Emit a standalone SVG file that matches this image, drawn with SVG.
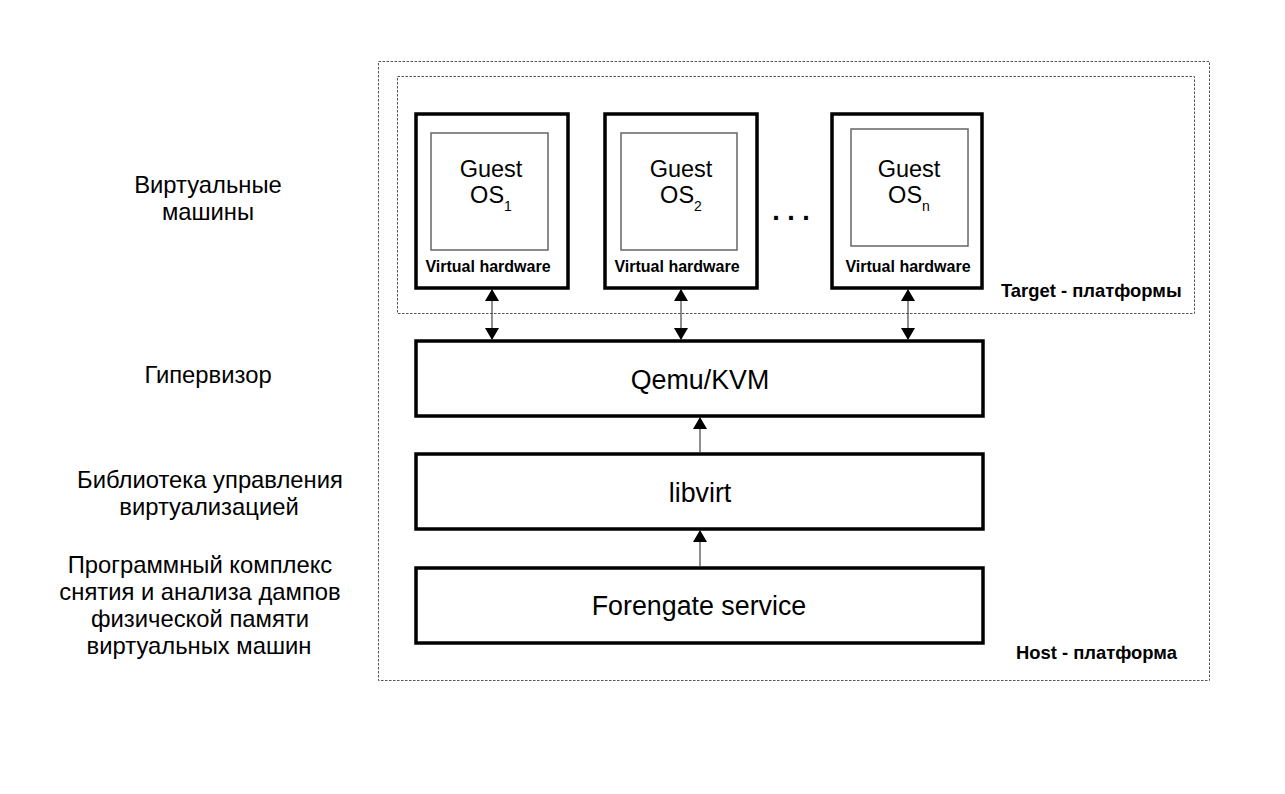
<svg xmlns="http://www.w3.org/2000/svg" width="1285" height="794" viewBox="0 0 1285 794">
<style>
text{font-family:"Liberation Sans",Arial,sans-serif;fill:#000}
.lbl{font-size:23.8px;text-anchor:middle}
.big{font-size:26.8px;text-anchor:middle}
.os{font-size:23.5px;text-anchor:middle}
.sub{font-size:14px}
.vh{font-size:16px;font-weight:bold;text-anchor:middle}
.plat{font-size:18.4px;font-weight:bold}
.frame{fill:none;stroke:#555;stroke-width:1;stroke-dasharray:2.5 1.5}
.vm{fill:#fff;stroke:#000;stroke-width:3.5}
.inner{fill:#fff;stroke:#666;stroke-width:1.5}
.layer{fill:#fff;stroke:#000;stroke-width:3.5}
.conn{stroke:#444;stroke-width:1.2;fill:none}
</style>
<defs>
<marker id="ah" viewBox="0 0 12 14" refX="11" refY="7" markerWidth="12" markerHeight="14" markerUnits="userSpaceOnUse" orient="auto-start-reverse">
<path d="M0,0 L12,7 L0,14 z" fill="#000"/>
</marker>
</defs>
<rect width="1285" height="794" fill="#fff"/>
<g id="host-frame">
<rect class="frame" x="378.5" y="61.5" width="831" height="619"/>
<text class="plat" x="1016" y="659">Host - платформа</text>
</g>
<g id="target-frame">
<rect class="frame" x="397.5" y="76.5" width="797" height="237"/>
<text class="plat" x="1001" y="297">Target - платформы</text>
</g>
<g id="labels">
<text class="lbl" x="208" y="193">Виртуальные</text>
<text class="lbl" x="208" y="220">машины</text>
<text class="lbl" x="208" y="383">Гипервизор</text>
<text class="lbl" x="210" y="488">Библиотека управления</text>
<text class="lbl" x="209" y="515">виртуализацией</text>
<text class="lbl" x="200" y="573">Программный комплекс</text>
<text class="lbl" x="200" y="600">снятия и анализа дампов</text>
<text class="lbl" x="200" y="627">физической памяти</text>
<text class="lbl" x="199" y="654">виртуальных машин</text>
</g>
<g id="vm1">
<rect class="vm" x="416" y="114" width="152" height="174"/>
<rect class="inner" x="431" y="133" width="117" height="117"/>
<text class="os" x="491" y="177">Guest</text>
<text class="os" x="491" y="203">OS<tspan class="sub" dy="8">1</tspan></text>
<text class="vh" x="488" y="272">Virtual hardware</text>
</g>
<g id="vm2">
<rect class="vm" x="605" y="114" width="152" height="174"/>
<rect class="inner" x="621" y="133" width="116" height="117"/>
<text class="os" x="681" y="177">Guest</text>
<text class="os" x="681" y="203">OS<tspan class="sub" dy="8">2</tspan></text>
<text class="vh" x="677" y="272">Virtual hardware</text>
</g>
<g id="dots">
<text x="791" y="220" style="font-size:27px;font-weight:bold;text-anchor:middle">. . .</text>
</g>
<g id="vmn">
<rect class="vm" x="832" y="114" width="150" height="174"/>
<rect class="inner" x="851" y="129" width="117" height="117"/>
<text class="os" x="909" y="177">Guest</text>
<text class="os" x="909" y="203">OS<tspan class="sub" dy="8">n</tspan></text>
<text class="vh" x="908" y="272">Virtual hardware</text>
</g>
<g id="qemu">
<rect class="layer" x="416" y="341" width="567" height="75"/>
<text class="big" x="700" y="389">Qemu/KVM</text>
</g>
<g id="libvirt">
<rect class="layer" x="416" y="454" width="567" height="75"/>
<text class="big" x="700" y="502">libvirt</text>
</g>
<g id="forengate">
<rect class="layer" x="416" y="568" width="567" height="75"/>
<text class="big" x="699" y="615">Forengate service</text>
</g>
<g id="connectors">
<line class="conn" x1="492" y1="290" x2="492" y2="339" marker-start="url(#ah)" marker-end="url(#ah)"/>
<line class="conn" x1="681" y1="290" x2="681" y2="339" marker-start="url(#ah)" marker-end="url(#ah)"/>
<line class="conn" x1="908" y1="290" x2="908" y2="339" marker-start="url(#ah)" marker-end="url(#ah)"/>
<line class="conn" x1="700" y1="452" x2="700" y2="418" marker-end="url(#ah)"/>
<line class="conn" x1="700" y1="566" x2="700" y2="531" marker-end="url(#ah)"/>
</g>
</svg>
